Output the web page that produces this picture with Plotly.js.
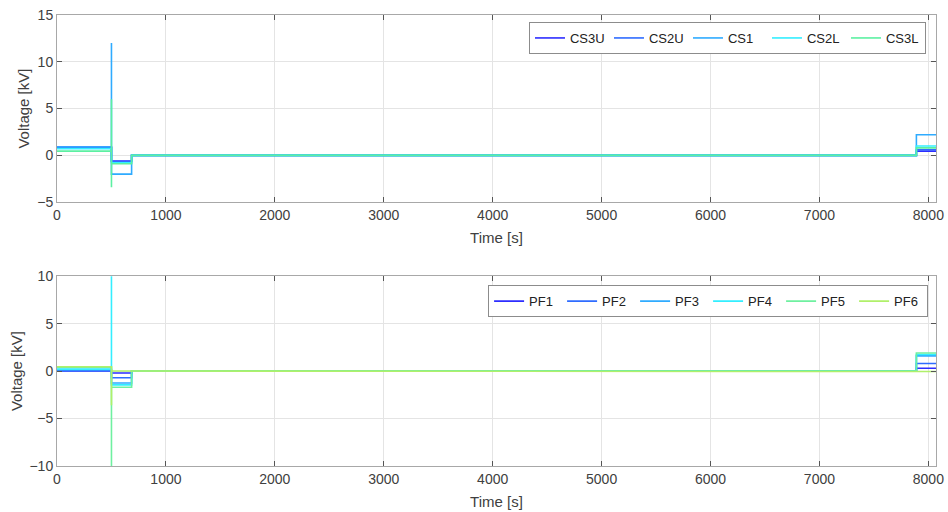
<!DOCTYPE html>
<html>
<head>
<meta charset="utf-8">
<script src="https://cdn.plot.ly/plotly-3.0.1.min.js"></script>
<style>html,body{margin:0;padding:0;background:#fff;}#chart{width:948px;height:512px;}</style>
</head>
<body>
<div id="chart"></div>
<script>
// Time samples (s) for the step-like voltage records
const timeTop = [0, 500, 500, 500, 500, 685, 685, 7890, 7890, 8070];
const timeBot = [0, 500, 500, 500, 500, 685, 685, 7890, 7890, 8070];

// CS coil voltages [kV]
const csNames = ["CS3U", "CS2U", "CS1", "CS2L", "CS3L"];
const CS3U = [0.85, 0.85, 0.85, 0.85, -0.6, -0.6, 0, 0, 0.45, 0.45];
const CS2U = [0.85, 0.85, 0.85, 0.85, -0.65, -0.65, 0, 0, 0.6, 0.6];
const CS1  = [0.9, 0.9, 12, -2.0, -2.0, -2.0, 0, 0, 2.2, 2.2];
const CS2L = [0.7, 0.7, 0.7, -0.8, -0.8, -0.8, 0, 0, 1.0, 1.0];
const CS3L = [0.45, 0.45, 6, -3.4, -0.9, -0.9, 0, 0, 0.8, 0.8];

// PF coil voltages [kV]
const pfNames = ["PF1", "PF2", "PF3", "PF4", "PF5", "PF6"];
const PF1 = [0.0, 0.0, 0.0, 0.0, -0.2, -0.2, 0, 0, 0.3, 0.3];
const PF2 = [0.05, 0.05, 0.05, 0.05, -0.7, -0.7, 0, 0, 0.8, 0.8];
const PF3 = [0.15, 0.15, 0.15, 0.15, -1.25, -1.25, 0, 0, 1.6, 1.6];
const PF4 = [0.2, 0.2, 10.5, -1.45, -1.45, -1.45, 0, 0, 1.75, 1.75];
const PF5 = [0.4, 0.4, 0.4, -10.5, -1.7, -1.7, 0, 0, 1.9, 1.9];
const PF6 = [0.45, 0.45, 0.45, -3.6, 0, 0, 0, 0, -0.05, -0.05];

const xTicks = [0, 1000, 2000, 3000, 4000, 5000, 6000, 7000, 8000];
const yTicksTop = [-5, 0, 5, 10, 15];
const yTicksBot = [-10, -5, 0, 5, 10];

const csColors = ["#2d2dff", "#2f6cff", "#2fabff", "#33eeff", "#5cf0a2"];
const pfColors = ["#2d2dff", "#2f6cff", "#2fabff", "#33eeff", "#6ff0a0", "#b0f06a"];

const csData = [CS3U, CS2U, CS1, CS2L, CS3L];
const pfData = [PF1, PF2, PF3, PF4, PF5, PF6];

const traces = [];
csData.forEach((v, i) => traces.push({
  x: timeTop, y: v, name: csNames[i], type: "scatter", mode: "lines",
  line: {color: csColors[i], width: 1.6}, xaxis: "x", yaxis: "y", legend: "legend"
}));
pfData.forEach((v, i) => traces.push({
  x: timeBot, y: v, name: pfNames[i], type: "scatter", mode: "lines",
  line: {color: pfColors[i], width: 1.6}, xaxis: "x2", yaxis: "y2", legend: "legend2"
}));

const txt = "#404040";
const axBase = {
  showline: true, linecolor: "#a8a8a8", linewidth: 1, mirror: "ticks",
  ticks: "inside", ticklen: 5, tickcolor: "#555", showgrid: true, gridcolor: "#e4e4e4",
  zeroline: false, tickfont: {size: 14, color: txt}
};
const xax = () => Object.assign({}, axBase, {
  range: [0, 8070], tickvals: xTicks, ticktext: xTicks.map(String),
  title: {text: "Time [s]", font: {size: 15, color: txt}, standoff: 10}
});
const legBase = {
  orientation: "h", bgcolor: "#ffffff", bordercolor: "#8c8c8c", borderwidth: 1,
  font: {size: 13, color: "#222"}, xanchor: "right", yanchor: "top",
  itemwidth: 30, tracegroupgap: 0, itemclick: false
};

const layout = {
  width: 948, height: 512,
  margin: {l: 57, r: 12, t: 15, b: 46},
  paper_bgcolor: "#ffffff", plot_bgcolor: "#ffffff",
  font: {family: "Liberation Sans, Arial, sans-serif", color: txt},
  showlegend: true,
  xaxis: Object.assign(xax(), {anchor: "y"}),
  yaxis: Object.assign({}, axBase, {domain: [0.585, 1], range: [-5, 15], tickvals: yTicksTop, anchor: "x",
    title: {text: "Voltage [kV]", font: {size: 15, color: txt}, standoff: 3}}),
  xaxis2: Object.assign(xax(), {anchor: "y2"}),
  yaxis2: Object.assign({}, axBase, {domain: [0, 0.421], range: [-10, 10], tickvals: yTicksBot, anchor: "x2",
    title: {text: "Voltage [kV]", font: {size: 15, color: txt}, standoff: 3}}),
  legend: Object.assign({}, legBase, {x: 0.9886, y: 0.9845, entrywidth: 34}),
  legend2: Object.assign({}, legBase, {x: 0.991, y: 0.401, entrywidth: 28})
};

Plotly.newPlot("chart", traces, layout, {displayModeBar: false, staticPlot: true});
</script>
</body>
</html>
